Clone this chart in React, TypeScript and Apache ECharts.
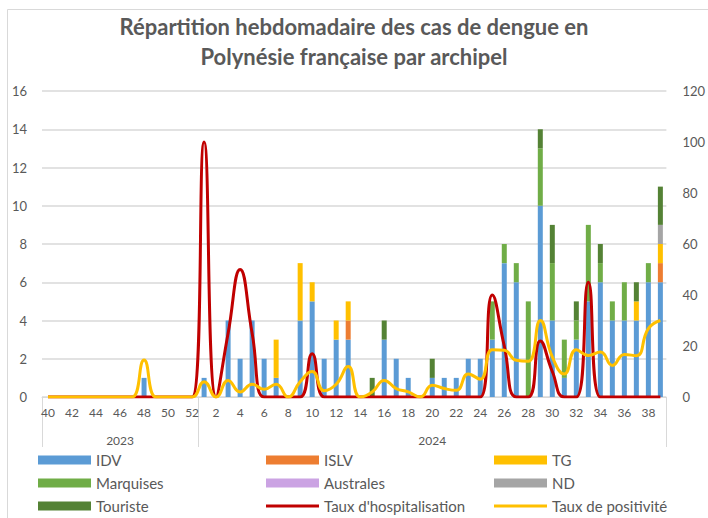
import React, { useEffect, useRef } from "react";
import * as echarts from "echarts";

// Weeks (tick labels): 2023 weeks 40-52, then 2024 weeks 1-39
const weeks2023 = ["40", "41", "42", "43", "44", "45", "46", "47", "48", "49", "50", "51", "52"];
const weeks2024 = [
  "1", "2", "3", "4", "5", "6", "7", "8", "9", "10", "11", "12", "13", "14", "15", "16", "17", "18", "19", "20",
  "21", "22", "23", "24", "25", "26", "27", "28", "29", "30", "31", "32", "33", "34", "35", "36", "37", "38", "39",
];
const years = ["2023", "2024"];

// Case counts per archipelago (2023 w40-52 then 2024 w1-39)
const idv = [
  0, 0, 0, 0, 0, 0, 0, 0, 1, 0, 0, 0, 0,
  1, 0, 4, 2, 4, 2, 1, 0, 4, 5, 2, 3, 3, 0, 0, 3, 2, 1, 0, 1, 1, 1, 2, 2,
  3, 7, 6, 0, 10, 4, 1, 3, 5, 6, 4, 4, 4, 6, 6,
];
const islv = [
  0, 0, 0, 0, 0, 0, 0, 0, 0, 0, 0, 0, 0,
  0, 0, 0, 0, 0, 0, 0, 0, 0, 0, 0, 0, 1, 0, 0, 0, 0, 0, 0, 0, 0, 0, 0, 0,
  0, 0, 0, 0, 0, 0, 0, 0, 0, 0, 0, 0, 0, 0, 1,
];
const tg = [
  0, 0, 0, 0, 0, 0, 0, 0, 0, 0, 0, 0, 0,
  0, 0, 0, 0, 0, 0, 2, 0, 3, 1, 0, 1, 1, 0, 0, 0, 0, 0, 0, 0, 0, 0, 0, 0,
  0, 0, 0, 0, 0, 0, 0, 0, 0, 0, 0, 0, 1, 0, 1,
];
const marquises = [
  0, 0, 0, 0, 0, 0, 0, 0, 0, 0, 0, 0, 0,
  0, 0, 0, 0, 0, 0, 0, 0, 0, 0, 0, 0, 0, 0, 0, 0, 0, 0, 0, 0, 0, 0, 0, 0,
  2, 1, 1, 5, 3, 3, 2, 1, 4, 1, 1, 2, 0, 1, 0,
];
const australes = [
  0, 0, 0, 0, 0, 0, 0, 0, 0, 0, 0, 0, 0,
  0, 0, 0, 0, 0, 0, 0, 0, 0, 0, 0, 0, 0, 0, 0, 0, 0, 0, 0, 0, 0, 0, 0, 0,
  0, 0, 0, 0, 0, 0, 0, 0, 0, 0, 0, 0, 0, 0, 0,
];
const nd = [
  0, 0, 0, 0, 0, 0, 0, 0, 0, 0, 0, 0, 0,
  0, 0, 0, 0, 0, 0, 0, 0, 0, 0, 0, 0, 0, 0, 0, 0, 0, 0, 0, 0, 0, 0, 0, 0,
  0, 0, 0, 0, 0, 0, 0, 0, 0, 0, 0, 0, 0, 0, 1,
];
const touriste = [
  0, 0, 0, 0, 0, 0, 0, 0, 0, 0, 0, 0, 0,
  0, 0, 0, 0, 0, 0, 0, 0, 0, 0, 0, 0, 0, 0, 1, 1, 0, 0, 0, 1, 0, 0, 0, 0,
  0, 0, 0, 0, 1, 2, 0, 1, 0, 1, 0, 0, 1, 0, 2,
];

// Rates (%) on the secondary axis
const tauxHospitalisation = [
  0, 0, 0, 0, 0, 0, 0, 0, 0, 0, 0, 0, 0,
  100, 0, 25, 50, 25, 0, 0, 0, 0, 17, 0, 0, 0, 0, 0, 0, 0, 0, 0, 0, 0, 0, 0, 0,
  40, 20, 0, 0, 22, 10, 0, 0, 45, 0, 0, 0, 0, 0, 0,
];
const tauxPositivite = [
  0, 0, 0, 0, 0, 0, 0, 0, 14.5, 0, 0, 0, 0,
  6, 0, 6.5, 2, 5, 3, 5, 0, 6, 10, 2.5, 5, 12, 0, 2, 6.5, 3.3, 2, 0, 4.6, 3.3, 2.6, 9, 7,
  18.5, 18.3, 14.4, 14, 30, 15.7, 9, 18.5, 16.3, 17.6, 12.4, 16.7, 16.2, 26.8, 30,
];

const categories = [...weeks2023, ...weeks2024];
const yearOf = [...weeks2023.map(() => years[0]), ...weeks2024.map(() => years[1])];
const yearMid = [Math.floor((weeks2023.length - 1) / 2), weeks2023.length + Math.floor((weeks2024.length - 1) / 2)];

const FONT = "Lato, 'Liberation Sans', sans-serif";
const GREY_TXT = "#595959";
const GRID_LINE = "#D9D9D9";

export default function App() {
  const ref = useRef<HTMLDivElement>(null);

  useEffect(() => {
    if (!ref.current) return;
    const chart = echarts.init(ref.current, undefined, { renderer: "svg" });

    const barSeries = [
      { name: "IDV", data: idv, color: "#5B9BD5" },
      { name: "ISLV", data: islv, color: "#ED7D31" },
      { name: "TG", data: tg, color: "#FFC000" },
      { name: "Marquises", data: marquises, color: "#70AD47" },
      { name: "Australes", data: australes, color: "#CBA3E3" },
      { name: "ND", data: nd, color: "#A5A5A5" },
      { name: "Touriste", data: touriste, color: "#548235" },
    ].map((s) => ({
      name: s.name,
      type: "bar",
      stack: "cas",
      barWidth: 5,
      data: s.data,
      itemStyle: { color: s.color },
      xAxisIndex: 0,
      yAxisIndex: 0,
    }));

    const legendCommon = {
      orient: "vertical",
      padding: 0,
      itemWidth: 53,
      itemHeight: 9,
      itemGap: 8,
      icon: "rect",
      textStyle: { color: GREY_TXT, fontSize: 15, lineHeight: 15, fontFamily: FONT },
      selectedMode: false,
    };
    const lineLegend = { ...legendCommon, itemHeight: 3 };

    chart.setOption({
      animation: false,
      textStyle: { fontFamily: FONT },
      title: {
        text: "Répartition hebdomadaire des cas de dengue en\nPolynésie française par archipel",
        left: "center",
        top: 6,
        textStyle: { fontSize: 22, fontWeight: "bold", color: GREY_TXT, lineHeight: 30, fontFamily: FONT },
      },
      graphic: [
        {
          type: "rect",
          left: 5,
          top: 7,
          shape: { width: 740, height: 540 },
          style: { fill: "none", stroke: GRID_LINE, lineWidth: 1 },
          silent: true,
        },
      ],
      legend: [
        { ...legendCommon, left: 38, top: 452.5, data: ["IDV", "Marquises", "Touriste"] },
        { ...legendCommon, left: 266, top: 452.5, data: ["ISLV", "Australes"] },
        { ...lineLegend, left: 266, top: 498.5, data: ["Taux d'hospitalisation"] },
        { ...legendCommon, left: 494, top: 452.5, data: ["TG", "ND"] },
        { ...lineLegend, left: 494, top: 498.5, data: ["Taux de positivité"] },
      ],
      grid: { left: 42, right: 37, top: 91, bottom: 121 },
      xAxis: [
        {
          type: "category",
          data: categories,
          axisLine: { lineStyle: { color: GRID_LINE, width: 1 } },
          axisTick: { show: false },
          axisLabel: { interval: 1, color: GREY_TXT, fontSize: 12, margin: 9, fontFamily: FONT },
        },
        {
          type: "category",
          data: categories,
          position: "bottom",
          axisLine: { show: false },
          axisTick: {
            show: true,
            length: 50,
            interval: (i: number) => i === 0 || i === weeks2023.length,
            lineStyle: { color: GRID_LINE, width: 1 },
          },
          axisLabel: {
            interval: (i: number) => yearMid.includes(i),
            formatter: (_v: string, i: number) => yearOf[i],
            color: GREY_TXT,
            fontSize: 12,
            margin: 37,
            fontFamily: FONT,
          },
        },
      ],
      yAxis: [
        {
          type: "value",
          min: 0,
          max: 16,
          interval: 2,
          axisLine: { show: false },
          axisTick: { show: false },
          splitLine: { lineStyle: { color: GRID_LINE, width: 1.5 } },
          axisLabel: { color: GREY_TXT, fontSize: 13, margin: 15, fontFamily: FONT },
        },
        {
          type: "value",
          min: 0,
          max: 120,
          interval: 20,
          position: "right",
          axisLine: { show: false },
          axisTick: { show: false },
          splitLine: { show: false },
          axisLabel: { color: GREY_TXT, fontSize: 13, margin: 16, fontFamily: FONT },
        },
      ],
      series: [
        ...barSeries,
        {
          name: "Taux d'hospitalisation",
          type: "line",
          data: tauxHospitalisation,
          yAxisIndex: 1,
          smooth: true,
          symbol: "none",
          lineStyle: { color: "#C00000", width: 3 },
          itemStyle: { color: "#C00000" },
          z: 4,
        },
        {
          name: "Taux de positivité",
          type: "line",
          data: tauxPositivite,
          yAxisIndex: 1,
          smooth: true,
          symbol: "none",
          lineStyle: { color: "#FFC000", width: 3 },
          itemStyle: { color: "#FFC000" },
          z: 5,
        },
      ],
    });

    return () => chart.dispose();
  }, []);

  return (
    <div
      ref={ref}
      style={{ position: "fixed", left: 0, top: 0, width: 708, height: 518, background: "#ffffff" }}
    />
  );
}
